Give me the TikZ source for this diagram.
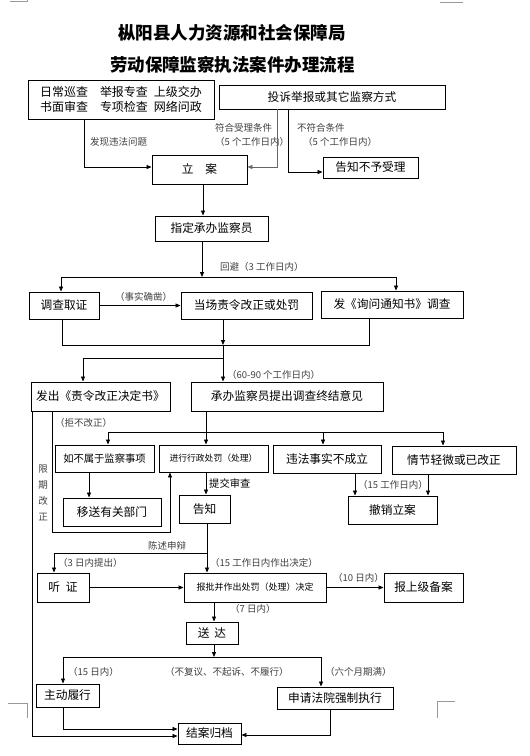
\documentclass[tikz,border=0pt]{standalone}
\usepackage{fontspec}
\setmainfont{Noto Sans CJK SC}
\usepackage{tikz}
\usetikzlibrary{arrows.meta,calc,positioning}

\begin{document}
\begin{tikzpicture}[x=1pt,y=-1pt,
  box/.style={draw,line width=0.9pt,inner sep=0pt,font=\fontsize{11.7}{14}\selectfont},
  bx/.style 2 args={box,minimum width=#1,minimum height=#2},
  lbl/.style={inner sep=0pt,text=black!75,font=\fontsize{9.5}{11}\selectfont},
  ln/.style={line width=0.8pt},
  arr/.style={ln,-{Triangle[length=5pt,width=4pt]}}]
  \path[use as bounding box,fill=white] (0,0) rectangle (530,756);
  \draw[black!40,line width=0.5pt] (10,1) -- (27,1) -- (27,0) (440,2) -- (463,2)
    (8,703) -- (27,703) -- (27,718) (455,701) -- (437,701) -- (437,718);

  \node[font=\fontsize{17.5}{20}\selectfont\bfseries] (title1) at (232,33) {枞阳县人力资源和社会保障局};
  \node[font=\fontsize{17.5}{20}\selectfont\bfseries] (title2) at (232.5,65) {劳动保障监察执法案件办理流程};

  \node[bx={186}{39},font=\fontsize{12}{15}\selectfont,align=left] (A) at (121,99.5)
    {日常巡查\hspace{1em}举报专查\hspace{0.5em}上级交办\\书面审查\hspace{1em}专项检查\hspace{0.5em}网络问政};
  \node[bx={226}{24}] (B) at (332,97) {投诉举报或其它监察方式};
  \node[bx={95}{29}] (lian) at (199.5,169.5) {立　案};
  \node[bx={95}{21}] (buyu) at (370.5,167.5) {告知不予受理};
  \node[bx={113}{25}] (zhiding) at (211.5,228.5) {指定承办监察员};
  \node[bx={70}{27}] (diaocha) at (64,305.5) {调查取证};
  \node[bx={131}{27}] (dangchang) at (246.5,305.5) {当场责令改正或处罚};
  \node[bx={142}{27}] (xunwen) at (392,304.5) {发《询问通知书》调查};
  \node[bx={139}{29}] (zeling) at (100.5,396.5) {发出《责令改正决定书》};
  \node[bx={192}{29}] (zhongjie) at (287,396.5) {承办监察员提出调查终结意见};
  \node[bx={99}{27},font=\fontsize{10.3}{12}\selectfont] (bushu) at (104.5,458.5) {如不属于监察事项};
  \node[bx={109}{27},font=\fontsize{8.8}{10}\selectfont] (chufa) at (213.5,458.5) {进行行政处罚（处理）};
  \node[bx={108}{28}] (buchengli) at (327,459) {违法事实不成立};
  \node[bx={124}{28}] (qingwei) at (454,460) {情节轻微或已改正};
  \node[bx={98}{28}] (yisong) at (112,512) {移送有关部门};
  \node[bx={51}{28}] (gaozhi) at (204.5,509) {告知};
  \node[bx={89}{28}] (chexiao) at (392.5,510) {撤销立案};
  \node[bx={52}{29}] (tingzheng) at (63,587.5) {听\hspace{0.5em}证};
  \node[bx={142}{29},font=\fontsize{9}{10}\selectfont] (baopi) at (255,587.5) {报批并作出处罚（处理）决定};
  \node[bx={79}{29}] (beian) at (423.5,587.5) {报上级备案};
  \node[bx={52}{22}] (songda) at (212,633) {送\hspace{0.4em}达};
  \node[bx={63}{23}] (lvxing) at (67.5,695.5) {主动履行};
  \node[bx={116}{22}] (qiangzhi) at (335,698) {申请法院强制执行};
  \node[bx={63}{21}] (guidang) at (209.5,733.5) {结案归档};

  \node[lbl,anchor=west] (l_fx) at (90,142) {发现违法问题};
  \node[lbl,anchor=west] (l_fh) at (215,128) {符合受理条件};
  \node[lbl,anchor=west] (l_fh5) at (215,142) {（5 个工作日内）};
  \node[lbl,anchor=west] (l_bf) at (297,128) {不符合条件};
  \node[lbl,anchor=west] (l_bf5) at (303,142) {（5 个工作日内）};
  \node[lbl,anchor=west] (l_hb) at (220,267) {回避（3 工作日内）};
  \node[lbl,anchor=west] (l_sq) at (115,297) {（事实确凿）};
  \node[lbl,anchor=west] (l_6090) at (227,375) {（60-90 个工作日内）};
  \node[lbl,anchor=west] (l_jb) at (55,423) {（拒不改正）};
  \node[lbl,anchor=west,text=black,font=\fontsize{10.3}{12}\selectfont] (l_tj) at (209,484) {提交审查};
  \node[lbl,anchor=west] (l_15a) at (358,485) {（15 工作日内）};
  \node[lbl,align=center,font=\fontsize{9.5}{16}\selectfont] (l_xq) at (43,492.5) {限\\期\\改\\正};
  \node[lbl,anchor=west] (l_cs) at (148,546) {陈述申辩};
  \node[lbl,anchor=west] (l_3r) at (58,563) {（3 日内提出）};
  \node[lbl,anchor=west] (l_15b) at (210,563) {（15 工作日内作出决定）};
  \node[lbl,anchor=west] (l_10) at (333,578) {（10 日内）};
  \node[lbl,anchor=west] (l_7) at (230,609) {（7 日内）};
  \node[lbl,anchor=west] (l_15c) at (68,672) {（15 日内）};
  \node[lbl,anchor=west] (l_bfy) at (165,672) {（不复议、不起诉、不履行）};
  \node[lbl,anchor=west] (l_6m) at (325,672) {（六个月期满）};

  \coordinate (t1) at (61,277);
  \coordinate (t2) at (396,277);
  \coordinate (c1) at (62,345);
  \coordinate (c2) at (369,345);
  \coordinate (c3) at (223,345);
  \coordinate (c4) at (83,358);
  \coordinate (d1) at (108,432);
  \coordinate (d2) at (443,432);
  \coordinate (e2) at (170,532);
  \coordinate (f1) at (207,553);
  \coordinate (g1) at (63,657);
  \coordinate (g2) at (321,657);

  \draw[arr] ([xshift=-37pt]A.south) |- ([yshift=2.5pt]lian.west);
  \draw[arr,black!60] ([xshift=-55pt]B.south) |- ([yshift=2.5pt]lian.east);
  \draw[arr] ([xshift=-44pt]B.south) |- ([yshift=-4.5pt]buyu.west);
  \draw[arr] ([xshift=3.5pt]lian.south) -- ([xshift=3.5pt]lian.south |- zhiding.north);
  \draw[arr] ([xshift=-9.5pt]zhiding.south) -- ([xshift=-9.5pt]zhiding.south |- t1);
  \draw[ln] (t1) -- (t2);
  \draw[arr] (t1) -- (t1 |- diaocha.north);
  \draw[arr] (t2) -- (t2 |- xunwen.north);
  \draw[arr] (diaocha) -- (dangchang);
  \draw[ln] (c1 |- diaocha.south) -- (c1) -- (c2) -- (c2 |- xunwen.south);
  \draw[arr] (c3 |- dangchang.south) -- (c3);
  \draw[arr] (c3) -- (c3 |- zhongjie.north);
  \draw[arr] (c3 |- c4) -- (c4) -- (c4 |- zeling.north);

  \draw[ln] (d1) -- (d2);
  \draw[arr] ([xshift=-81pt]zhongjie.south) -- ([xshift=-81pt]zhongjie.south |- chufa.north);
  \foreach \n/\s in {bushu/3.5,buchengli/-4,qingwei/-11}
    \draw[arr] ([xshift=\s pt]\n.north |- d1) -- ([xshift=\s pt]\n.north);
  \draw[arr] ([xshift=-48.5pt]zeling.south) |- (e2) -- (e2 |- chufa.south);
  \draw[arr] ([xshift=-15.5pt]bushu.south) -- ([xshift=-15.5pt]bushu.south |- yisong.north);
  \draw[arr] ([xshift=-7.5pt]chufa.south) -- ([xshift=-7.5pt]chufa.south |- gaozhi.north);
  \draw[arr] ([xshift=28pt]buchengli.south) -- ([xshift=28pt]buchengli.south |- chexiao.north);
  \draw[arr] ([xshift=-26pt]qingwei.south) -- ([xshift=-26pt]qingwei.south |- chexiao.north);
  \draw[arr] ([xshift=-68.5pt]zeling.south) |- ([yshift=-2.5pt]guidang.west);

  \draw[arr] ([xshift=2.5pt]gaozhi.south) -- ([xshift=2.5pt]gaozhi.south |- baopi.north);
  \draw[arr] (f1) -| ([xshift=-9pt]tingzheng.north);
  \draw[arr] (tingzheng) -- (baopi);
  \draw[arr] (baopi) -- (beian);
  \draw[arr] ([xshift=-41pt]baopi.south) -- ([xshift=-41pt]baopi.south |- songda.north);
  \draw[arr] ([xshift=2pt]songda.south) -- ([xshift=2pt]songda.south |- g1);
  \draw[ln] (g1) -- (g2);
  \draw[arr] (g1) -- (g1 |- lvxing.north);
  \draw[arr] (g2) -- (g2 |- qiangzhi.north);
  \draw[arr] ([xshift=-4.5pt]lvxing.south) |- ([yshift=4.5pt]guidang.west);
  \draw[arr] ([xshift=-5pt]qiangzhi.south) |- ([yshift=-1.5pt]guidang.east);
\end{tikzpicture}
\end{document}
